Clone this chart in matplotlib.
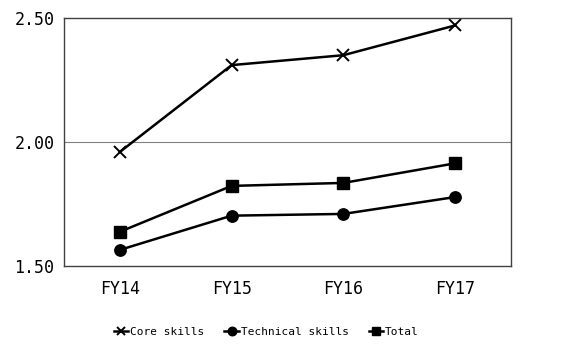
import matplotlib
matplotlib.use("Agg")
import matplotlib.pyplot as plt

categories = ["FY14", "FY15", "FY16", "FY17"]
core_skills = [1.96, 2.31, 2.35, 2.47]
technical_skills = [1.565, 1.703, 1.710, 1.778]
total = [1.638, 1.823, 1.835, 1.914]
y_ticks = [1.50, 2.00, 2.50]
y_tick_labels = ["1.50", "2.00", "2.50"]

font = "DejaVu Sans Mono"

fig = plt.figure(figsize=(5.8, 3.47), dpi=100)
ax = fig.add_axes([64/580, 1 - 266/347, (511-64)/580, (266-18)/347])

x = list(range(len(categories)))
ax.plot(x, core_skills, color="black", lw=1.8, marker="x", ms=8, mew=1.4, label="Core skills")
ax.plot(x, technical_skills, color="black", lw=1.8, marker="o", ms=8.2, label="Technical skills")
ax.plot(x, total, color="black", lw=1.8, marker="s", ms=8, label="Total")

ax.set_xlim(-0.5, len(categories) - 0.5)
ax.set_ylim(1.5, 2.5)
ax.set_yticks(y_ticks)
ax.set_yticklabels(y_tick_labels, fontfamily=font, fontsize=12)
ax.set_xticks(x)
ax.set_xticklabels(categories, fontfamily=font, fontsize=12)
ax.tick_params(length=0, pad=7)
ax.tick_params(axis="x", pad=10)
ax.axhline(2.0, color="#808080", lw=0.8, zorder=0)
for s in ax.spines.values():
    s.set_color("#404040")
    s.set_linewidth(1.0)

leg = fig.legend(loc="center", bbox_to_anchor=(0.459, 1 - 332/347), ncol=3, frameon=False,
                 prop={"family": font, "size": 8}, handlelength=1.3, handletextpad=0.15,
                 columnspacing=1.8, markerscale=0.75)
fig.savefig("out.png", dpi=100)
